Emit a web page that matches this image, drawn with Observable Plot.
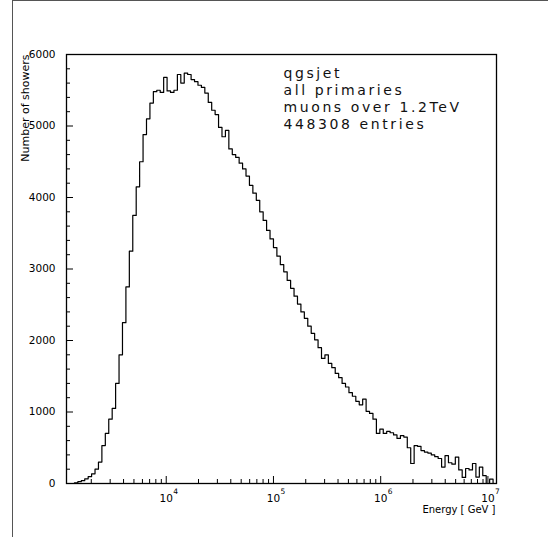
<!DOCTYPE html>
<html><head><meta charset="utf-8">
<script src="https://cdn.jsdelivr.net/npm/d3@7"></script>
<script src="https://cdn.jsdelivr.net/npm/@observablehq/plot@0.6"></script>
<style>
body{margin:0;background:#fff;}
#wrap{position:relative;width:548px;height:537px;overflow:hidden;}
#border{position:absolute;left:12px;top:0;width:540px;height:540px;border-left:1.4px solid #555;border-top:1.4px solid #555;pointer-events:none;}
</style></head><body><div id="wrap"><div id="border"></div></div>
<script>
// Histogram counts, bins equally spaced in log10(E)
const counts = [
0,0,8,25,40,65,95,135,200,300,
530,700,900,1050,1400,1800,2250,2750,3250,3750,
4150,4500,4880,5100,5320,5480,5500,5470,5680,5490,
5470,5500,5720,5600,5740,5720,5650,5620,5570,5540,
5460,5330,5220,5160,4980,4850,4940,4680,4600,4560,
4480,4400,4300,4170,4060,3960,3800,3680,3540,3420,
3300,3180,3060,2960,2840,2730,2620,2510,2400,2310,
2200,2100,2010,1900,1750,1800,1680,1620,1540,1480,
1400,1350,1270,1220,1150,1100,1180,1010,980,900,
700,760,700,730,710,680,630,670,650,500,
280,530,520,460,440,425,400,375,350,230,
390,290,270,370,190,85,210,190,280,90,
230,110,0,60,0
];
const binLogMin = 3.08;
const binLogWidth = 0.032;

const xMajorTicks = [1e4, 1e5, 1e6, 1e7];
const xTickBase = ["10", "10", "10", "10"];
const xTickExponents = ["4", "5", "6", "7"];
const xMinorTicks = [2e3,3e3,4e3,5e3,6e3,7e3,8e3,9e3,2e4,3e4,4e4,5e4,6e4,7e4,8e4,9e4,2e5,3e5,4e5,5e5,6e5,7e5,8e5,9e5,2e6,3e6,4e6,5e6,6e6,7e6,8e6,9e6];
const yMajorTicks = [0, 1000, 2000, 3000, 4000, 5000, 6000];
const yTickLabels = ["0", "1000", "2000", "3000", "4000", "5000", "6000"];
const yMinorTicks = [200,400,600,800,1200,1400,1600,1800,2200,2400,2600,2800,3200,3400,3600,3800,4200,4400,4600,4800,5200,5400,5600,5800];
const annotation = ["qgsjet", "all primaries", "muons over 1.2TeV", "448308 entries"];
const xLabel = "Energy [ GeV ]";
const yLabel = "Number of showers";

const edges = d3.range(counts.length + 1).map(i => 10 ** (binLogMin + i * binLogWidth));
const steps = edges.map((e, i) => ({x: e, y: counts[Math.min(i, counts.length - 1)]}));
const noLabel = () => "";

const chart = Plot.plot({
  width: 548, height: 537,
  marginLeft: 66, marginRight: 52, marginTop: 54, marginBottom: 54,
  style: {fontFamily: "DejaVu Sans", fontSize: "10.5px", color: "#000", background: "transparent"},
  x: {type: "log", domain: [10 ** 3.07, 10 ** 7.08], axis: null},
  y: {domain: [0, 6000], axis: null},
  marks: [
    Plot.line(steps, {x: "x", y: "y", curve: "step-after", stroke: "#000", strokeWidth: 1.2}),
    Plot.axisY(yMinorTicks, {anchor: "left", tickSize: -4, tickFormat: noLabel, label: null, stroke: "#000"}),
    Plot.axisY(yMajorTicks, {anchor: "left", tickSize: -7, tickPadding: 18, label: null, stroke: "#000",
      tickFormat: d => yTickLabels[yMajorTicks.indexOf(d)], fontSize: 10.5, fill: "#000"}),
    Plot.axisX(xMinorTicks, {anchor: "bottom", tickSize: -4, tickFormat: noLabel, label: null, stroke: "#000"}),
    Plot.axisX(xMajorTicks, {anchor: "bottom", tickSize: -7, tickFormat: noLabel, label: null, stroke: "#000"}),
    Plot.text(xMajorTicks, {x: d => d, text: (d, i) => xTickBase[i], frameAnchor: "bottom", dy: 15, lineAnchor: "middle", textAnchor: "middle", fontSize: 10.5, fill: "#000"}),
    Plot.text(xMajorTicks, {x: d => d, text: (d, i) => xTickExponents[i], frameAnchor: "bottom", dx: 9.5, dy: 8, lineAnchor: "middle", textAnchor: "middle", fontSize: 7.5, fill: "#000"}),
    Plot.text([xLabel], {text: d => d, frameAnchor: "bottom-right", textAnchor: "end", lineAnchor: "middle", dx: -1, dy: 26, fontSize: 10, fill: "#000"}),
    Plot.text([yLabel], {text: d => d, frameAnchor: "top-left", rotate: -90, textAnchor: "end", lineAnchor: "middle", dx: -41, dy: 0, fontSize: 11, fill: "#000"}),
    Plot.text([annotation.join("\n")], {text: d => d, frameAnchor: "top-left", textAnchor: "start", lineAnchor: "top", lineHeight: 1.2, dx: 217, dy: 12, fontSize: 14, fill: "#111"}),
    Plot.frame({stroke: "#000", strokeWidth: 1.3})
  ]
});
document.getElementById("wrap").appendChild(chart);
d3.select(chart).selectAll("text").filter(function() { return this.textContent.includes("qgsjet"); })
  .attr("letter-spacing", "2.6px");
</script>
</body></html>
